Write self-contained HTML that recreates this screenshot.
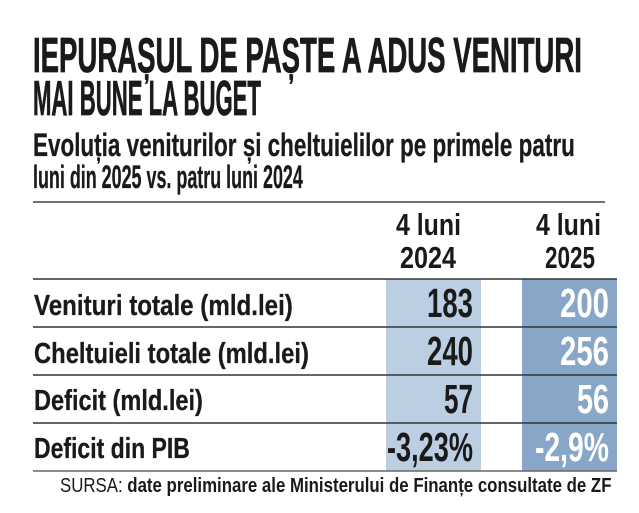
<!DOCTYPE html>
<html><head><meta charset="utf-8"><style>
html,body{margin:0;padding:0;background:#fff;}
svg{display:block;}
text{font-family:"Liberation Sans Narrow","Liberation Sans",sans-serif;font-weight:bold;fill:#1a1a1a;}
</style></head><body>
<svg id="s" width="639" height="513" viewBox="0 0 639 513" xmlns="http://www.w3.org/2000/svg">
<rect width="639" height="513" fill="#fff"/>
<text x="33" y="72" font-size="49" textLength="549" lengthAdjust="spacingAndGlyphs" stroke="#1a1a1a" stroke-width="0.8">IEPURAȘUL DE PAȘTE A ADUS VENITURI</text>
<text x="33" y="115" font-size="49" textLength="228" lengthAdjust="spacingAndGlyphs" stroke="#1a1a1a" stroke-width="0.8">MAI BUNE LA BUGET</text>
<text x="33" y="156" font-size="32" textLength="542" lengthAdjust="spacingAndGlyphs" stroke="#1a1a1a" stroke-width="0.3">Evoluția veniturilor și cheltuielilor pe primele patru</text>
<text x="33" y="188" font-size="32" textLength="270" lengthAdjust="spacingAndGlyphs" stroke="#1a1a1a" stroke-width="0.3">luni din 2025 vs. patru luni 2024</text>
<line x1="33" y1="202" x2="605" y2="202" stroke="#444" stroke-width="1.5"/>
<text x="396" y="235" font-size="31" textLength="65" lengthAdjust="spacingAndGlyphs">4 luni</text>
<text x="400" y="268" font-size="31" textLength="56" lengthAdjust="spacingAndGlyphs">2024</text>
<text x="536" y="235" font-size="31" textLength="65" lengthAdjust="spacingAndGlyphs">4 luni</text>
<text x="545" y="268" font-size="31" textLength="50" lengthAdjust="spacingAndGlyphs">2025</text>
<rect x="386" y="279" width="95" height="192" fill="#bccfe2"/>
<rect x="522" y="279" width="95" height="192" fill="#88a7c8"/>
<g stroke="#333" stroke-width="1.5">
<line x1="33" y1="279" x2="617" y2="279"/>
<line x1="33" y1="327" x2="617" y2="327"/>
<line x1="33" y1="375" x2="617" y2="375"/>
<line x1="33" y1="423" x2="617" y2="423"/>
<line x1="33" y1="471" x2="617" y2="471" stroke="#666"/>
</g>
<g stroke="#1a1a1a" stroke-width="0.3">
<text x="34" y="315" font-size="29" textLength="259" lengthAdjust="spacingAndGlyphs">Venituri totale (mld.lei)</text>
<text x="34" y="363" font-size="29" textLength="275" lengthAdjust="spacingAndGlyphs">Cheltuieli totale (mld.lei)</text>
<text x="34" y="410" font-size="29" textLength="169" lengthAdjust="spacingAndGlyphs">Deficit (mld.lei)</text>
<text x="34" y="458" font-size="29" textLength="156" lengthAdjust="spacingAndGlyphs">Deficit din PIB</text>
</g>
<g font-size="41">
<text x="427" y="317" textLength="46" lengthAdjust="spacingAndGlyphs">183</text>
<text x="427" y="365" textLength="46" lengthAdjust="spacingAndGlyphs">240</text>
<text x="444" y="413" textLength="29" lengthAdjust="spacingAndGlyphs">57</text>
<text x="387" y="461" textLength="86" lengthAdjust="spacingAndGlyphs">-3,23%</text>
<text x="560" y="317" style="fill:#fff" textLength="49" lengthAdjust="spacingAndGlyphs">200</text>
<text x="560" y="365" style="fill:#fff" textLength="49" lengthAdjust="spacingAndGlyphs">256</text>
<text x="577" y="413" style="fill:#fff" textLength="32" lengthAdjust="spacingAndGlyphs">56</text>
<text x="535" y="461" style="fill:#fff" textLength="74" lengthAdjust="spacingAndGlyphs">-2,9%</text>
</g>
<text x="60" y="492" font-size="20" textLength="552" lengthAdjust="spacingAndGlyphs"><tspan style="font-weight:normal">SURSA:</tspan> date preliminare ale Ministerului de Finanțe consultate de ZF</text>
</svg>
<script>
(function(){
  var ts=document.querySelectorAll('#s text');
  for(var i=0;i<ts.length;i++){
    var t=ts[i];var L=parseFloat(t.getAttribute('textLength'));
    if(!L)continue;
    t.removeAttribute('textLength');t.removeAttribute('lengthAdjust');
    var w=t.getComputedTextLength();
    if(w>0){var x=parseFloat(t.getAttribute('x'));var k=L/w;
      t.setAttribute('transform','translate('+x+',0) scale('+k+',1) translate('+(-x)+',0)');}
  }
})();
</script>
</body></html>
